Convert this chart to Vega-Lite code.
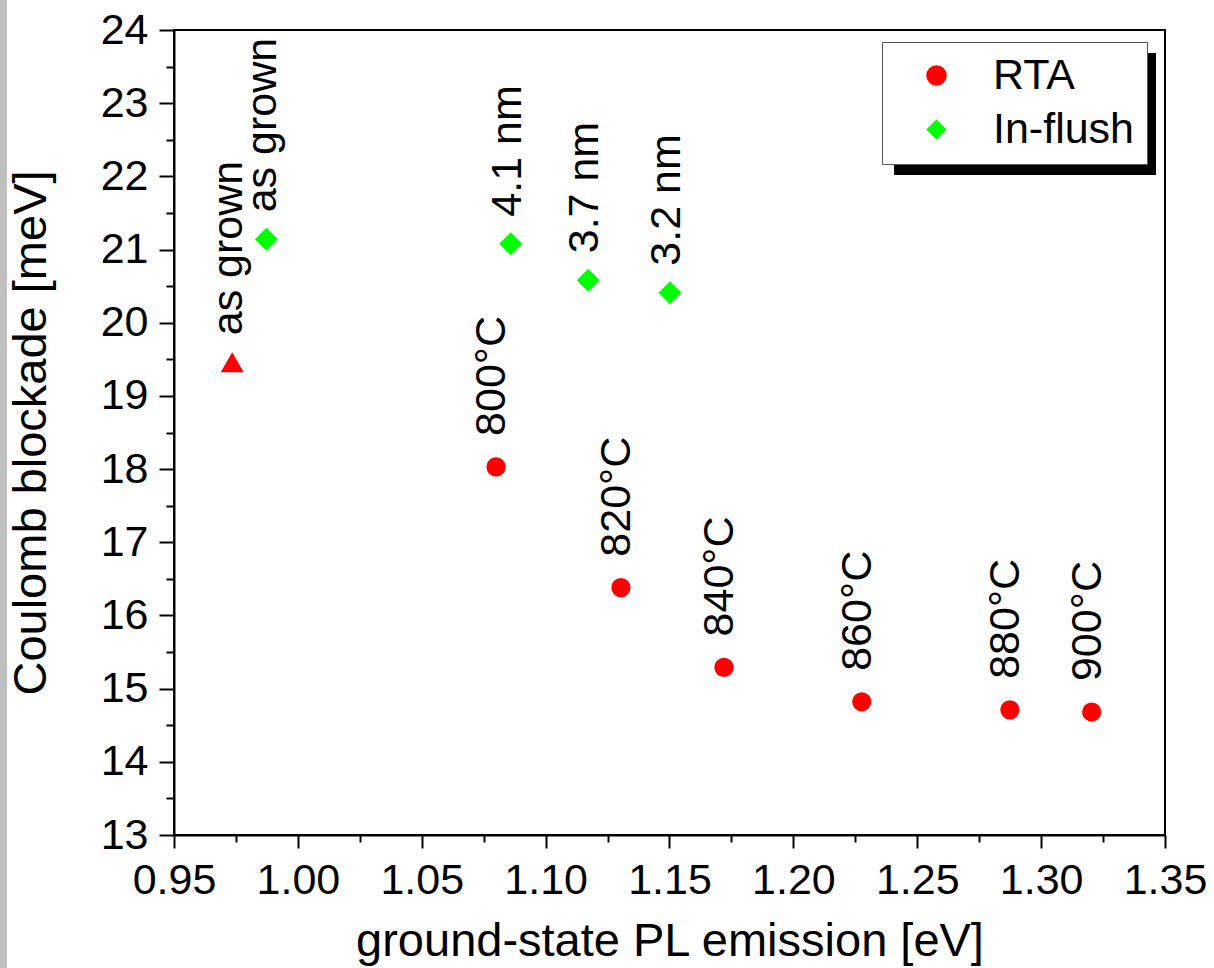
{
  "$schema": "https://vega.github.io/schema/vega-lite/v6.json",
  "autosize": {"type": "none"},
  "width": 991,
  "height": 805,
  "padding": {"left": 174, "top": 30, "right": 49, "bottom": 133},
  "background": "white",
  "config": {
    "view": {"stroke": "black", "strokeWidth": 2},
    "font": "Liberation Sans",
    "axis": {
      "domainColor": "black", "domainWidth": 2, "tickColor": "black", "tickWidth": 2,
      "labelFont": "Liberation Sans", "labelFontSize": 43, "labelColor": "black",
      "titleFont": "Liberation Sans", "titleFontSize": 47, "titleFontWeight": "normal", "titleColor": "black",
      "grid": false, "labelFlush": false, "labelOverlap": false
    },
    "legend": {
      "labelFont": "Liberation Sans", "labelFontSize": 43, "labelColor": "black"
    }
  },
  "datasets": {
    "pts": [
      {"E": 1.080, "CB": 18.03, "series": "RTA", "label": "800°C"},
      {"E": 1.1304, "CB": 16.38, "series": "RTA", "label": "820°C"},
      {"E": 1.172, "CB": 15.29, "series": "RTA", "label": "840°C"},
      {"E": 1.2276, "CB": 14.82, "series": "RTA", "label": "860°C"},
      {"E": 1.2874, "CB": 14.71, "series": "RTA", "label": "880°C"},
      {"E": 1.3204, "CB": 14.68, "series": "RTA", "label": "900°C"},
      {"E": 0.9873, "CB": 21.14, "series": "In-flush", "label": "as grown"},
      {"E": 1.0859, "CB": 21.08, "series": "In-flush", "label": "4.1 nm"},
      {"E": 1.1172, "CB": 20.58, "series": "In-flush", "label": "3.7 nm"},
      {"E": 1.1502, "CB": 20.41, "series": "In-flush", "label": "3.2 nm"},
      {"E": 0.9735, "CB": 19.46, "series": "RTA as grown", "label": "as grown"}
    ]
  },
  "data": {"name": "pts"},
  "resolve": {"axis": {"x": "independent", "y": "independent"}, "scale": {"stroke": "independent"}},
  "layer": [
    {
      "transform": [{"filter": "datum.series === 'RTA'"}],
      "mark": {"type": "point", "filled": true, "opacity": 1, "size": 370},
      "encoding": {
        "x": {"field": "E", "type": "quantitative",
          "scale": {"domain": [0.95, 1.35], "nice": false, "zero": false},
          "axis": {"orient": "bottom", "values": [0.95, 1.0, 1.05, 1.1, 1.15, 1.2, 1.25, 1.3, 1.35], "format": ".2f",
            "tickSize": 13, "labelPadding": 11, "title": "ground-state PL emission [eV]", "titlePadding": 16}},
        "y": {"field": "CB", "type": "quantitative",
          "scale": {"domain": [13, 24], "nice": false, "zero": false},
          "axis": {"orient": "left", "values": [13, 14, 15, 16, 17, 18, 19, 20, 21, 22, 23, 24],
            "tickSize": 15, "labelPadding": 11, "title": "Coulomb blockade [meV]", "titlePadding": 45}},
        "color": {"field": "series", "type": "nominal",
          "scale": {"domain": ["RTA", "In-flush"], "range": ["#ff0000", "#00ff00"]},
          "legend": {"title": null, "orient": "none", "legendX": 708, "legendY": 12, "zindex": 3,
            "fillColor": "white", "strokeColor": "#555555", "padding": 12,
            "symbolSize": 420, "symbolOffset": 21, "labelOffset": 35, "rowPadding": 10, "symbolStrokeWidth": 0}},
        "shape": {"field": "series", "type": "nominal",
          "scale": {"domain": ["RTA", "In-flush"], "range": ["circle", "diamond"]}}
      }
    },
    {
      "transform": [{"filter": "datum.series === 'In-flush'"}],
      "mark": {"type": "point", "filled": true, "opacity": 1, "size": 529},
      "encoding": {
        "x": {"field": "E", "type": "quantitative",
          "axis": {"orient": "bottom", "values": [0.975, 1.025, 1.075, 1.125, 1.175, 1.225, 1.275, 1.325],
            "tickSize": 7, "labels": false, "domain": false, "title": null}},
        "y": {"field": "CB", "type": "quantitative",
          "axis": {"orient": "left", "values": [13.5, 14.5, 15.5, 16.5, 17.5, 18.5, 19.5, 20.5, 21.5, 22.5, 23.5],
            "tickSize": 8, "labels": false, "domain": false, "title": null}},
        "color": {"field": "series", "type": "nominal"},
        "shape": {"field": "series", "type": "nominal"}
      }
    },
    {
      "transform": [{"filter": "datum.series === 'RTA as grown'"}],
      "mark": {"type": "point", "filled": true, "opacity": 1, "size": 529, "shape": "triangle-up", "fill": "#ff0000", "strokeWidth": 0},
      "encoding": {
        "x": {"field": "E", "type": "quantitative", "axis": null},
        "y": {"field": "CB", "type": "quantitative", "axis": null},
        "stroke": {"field": "CB", "type": "quantitative",
          "scale": {"domain": [13, 24], "range": ["black", "black"]},
          "legend": {"title": null, "orient": "none", "legendX": 720, "legendY": 23, "zindex": 1,
            "direction": "vertical", "gradientLength": 122, "gradientThickness": 262, "gradientStrokeWidth": 0,
            "labelExpr": "''", "labelFontSize": 0, "labelOpacity": 0, "labelOffset": 0, "padding": 0, "offset": 0}}
      }
    },
    {
      "transform": [{"filter": "datum.series === 'RTA'"}],
      "mark": {"type": "text", "angle": -90, "align": "left", "baseline": "middle", "dx": 31, "dy": -4,
        "fontSize": 43, "font": "Liberation Sans", "color": "black", "strokeWidth": 0},
      "encoding": {
        "x": {"field": "E", "type": "quantitative", "axis": null},
        "y": {"field": "CB", "type": "quantitative", "axis": null},
        "text": {"field": "label"},
        "stroke": {"field": "CB", "type": "quantitative",
          "scale": {"domain": [13, 24], "range": ["#c0c0c0", "#c0c0c0"]},
          "legend": {"title": null, "orient": "none", "legendX": -174, "legendY": -30, "zindex": 1,
            "direction": "vertical", "gradientLength": 968, "gradientThickness": 7, "gradientStrokeWidth": 0,
            "labelExpr": "''", "labelFontSize": 0, "labelOpacity": 0, "labelOffset": 0, "padding": 0, "offset": 0}}
      }
    },
    {
      "transform": [{"filter": "datum.series !== 'RTA'"}],
      "mark": {"type": "text", "angle": -90, "align": "left", "baseline": "middle", "dx": 27, "dy": -3,
        "fontSize": 43, "font": "Liberation Sans", "color": "black"},
      "encoding": {
        "x": {"field": "E", "type": "quantitative", "axis": null},
        "y": {"field": "CB", "type": "quantitative", "axis": null},
        "text": {"field": "label"}
      }
    }
  ]
}
